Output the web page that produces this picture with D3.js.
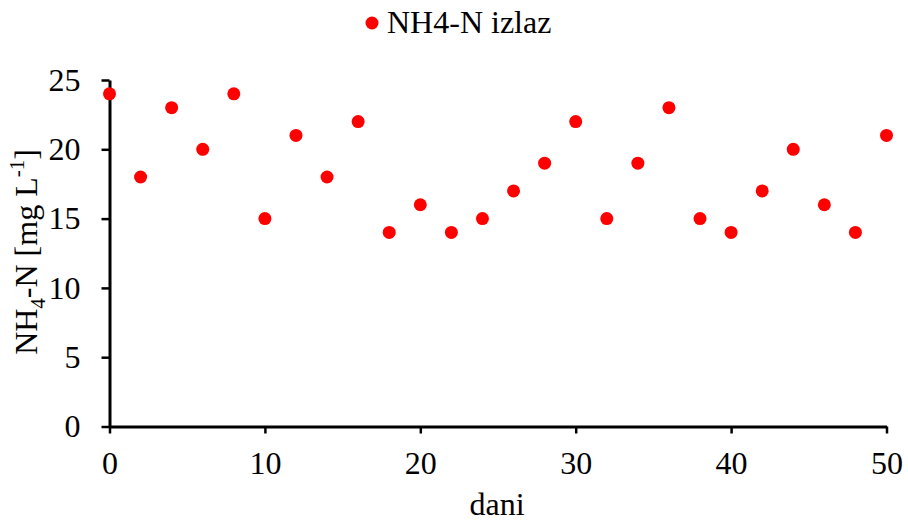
<!DOCTYPE html>
<html><head><meta charset="utf-8">
<script src="https://cdn.jsdelivr.net/npm/d3@7"></script>
<style>body{margin:0;background:#fff}svg{display:block}text{font-family:"Liberation Serif","Times New Roman",serif;fill:#000}</style>
</head><body>
<script>
const days = [0,2,4,6,8,10,12,14,16,18,20,22,24,26,28,30,32,34,36,38,40,42,44,46,48,50];
const nh4 = [24,18,23,20,24,15,21,18,22,14,16,14,15,17,19,22,15,19,23,15,14,17,20,16,14,21];
const xTicks = [0,10,20,30,40,50];
const yTicks = [0,5,10,15,20,25];
const seriesName = "NH4-N izlaz";

const W=908,H=522,FS=32,FF="'Liberation Serif','Times New Roman',serif";
const svg=d3.select("body").append("svg").attr("width",W).attr("height",H);
const x=d3.scaleLinear().domain([0,50]).range([109.5,886.5]);
const y=d3.scaleLinear().domain([0,25]).range([426.5,80]);

const gx=svg.append("g").attr("transform","translate(0,426.5)")
 .call(d3.axisBottom(x).tickValues(xTicks).tickSize(7).tickPadding(18).tickSizeOuter(0));
const gy=svg.append("g").attr("transform","translate(109.5,0)")
 .call(d3.axisLeft(y).tickValues(yTicks).tickSize(8).tickPadding(21).tickSizeOuter(0));
[gx,gy].forEach(g=>{g.attr("font-family",FF).attr("font-size",FS);
 g.select(".domain").attr("stroke","#000").attr("stroke-width",3);
 g.selectAll(".tick line").attr("stroke","#000").attr("stroke-width",2.5);
 g.selectAll(".tick text").style("font-size",FS+"px").style("font-family",FF).attr("fill","#000");});

svg.append("g").selectAll("circle").data(days).join("circle")
 .attr("cx",(d)=>x(d)).attr("cy",(d,i)=>y(nh4[i])).attr("r",6.5).attr("fill","#ff0000");

svg.append("text").attr("x",497).attr("y",515).attr("text-anchor","middle").style("font-size",FS+"px").text("dani");

const yt=svg.append("text").attr("transform","translate(37,252) rotate(-90)").attr("text-anchor","middle").style("font-size",FS+"px");
yt.append("tspan").text("NH");
yt.append("tspan").attr("dy",8).style("font-size","21px").text("4");
yt.append("tspan").attr("dy",-8).text("-N [mg L");
yt.append("tspan").attr("dy",-13).style("font-size","21px").text("-1");
yt.append("tspan").attr("dy",13).text("]");

svg.append("circle").attr("cx",372).attr("cy",23).attr("r",6.5).attr("fill","#ff0000");
svg.append("text").attr("x",387).attr("y",33).style("font-size",FS+"px").text(seriesName);
</script>
</body></html>
